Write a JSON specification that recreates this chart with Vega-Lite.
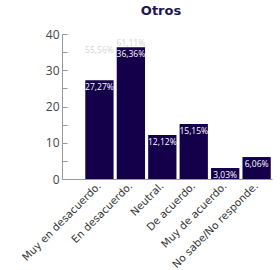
{
  "$schema": "https://vega.github.io/schema/vega-lite/v6.json",
  "width": 210,
  "height": 145,
  "autosize": {"type": "none"},
  "padding": {"left": 62, "top": 34, "right": 8, "bottom": 91},
  "config": {"view": {"stroke": null}, "font": "Open Sans"},
  "title": {"text": "Otros", "fontSize": 13, "fontWeight": "bold", "color": "#1c1650", "offset": 10, "dx": -6, "font": "DejaVu Sans"},
  "data": {"values": [
    {"cat": "Muy en desacuerdo.", "v": 27.27, "label": "27,27%", "ghost": "55,56%", "gy": 35.5},
    {"cat": "En desacuerdo.", "v": 36.36, "label": "36,36%", "ghost": "61,11%", "gy": 37.5},
    {"cat": "Neutral.", "v": 12.12, "label": "12,12%", "ghost": null, "gy": null},
    {"cat": "De acuerdo.", "v": 15.15, "label": "15,15%", "ghost": null, "gy": null},
    {"cat": "Muy de acuerdo.", "v": 3.03, "label": "3,03%", "ghost": null, "gy": null},
    {"cat": "No sabe/No responde.", "v": 6.06, "label": "6,06%", "ghost": null, "gy": null}
  ]},
  "encoding": {
    "x": {
      "field": "cat", "type": "nominal", "sort": null,
      "scale": {"paddingInner": 0.1, "paddingOuter": 0.39, "align": 0.95},
      "axis": {"title": null, "labelAngle": -45, "labelFont": "DejaVu Sans", "labelFontSize": 10.5, "labelColor": "#333333", "ticks": false, "domainColor": "#999999", "labelPadding": 5, "labelAlign": "right", "labelBaseline": "middle"}
    }
  },
  "layer": [
    {
      "mark": {"type": "bar", "color": "#14004a"},
      "encoding": {
        "y": {"field": "v", "type": "quantitative", "scale": {"domain": [0, 40]},
          "axis": {"title": null, "values": [0, 5, 10, 15, 20, 25, 30, 35, 40], "labelExpr": "datum.value % 10 == 0 ? datum.label : ''", "labelOverlap": false, "grid": false, "tickSize": -5, "tickColor": "#999999", "domainColor": "#999999", "labelFontSize": 12, "labelColor": "#444444", "labelPadding": 8}}
      }
    },
    {
      "mark": {"type": "text", "color": "#ffffff", "fontSize": 8.5, "baseline": "middle", "dy": 7},
      "encoding": {"y": {"field": "v", "type": "quantitative", "scale": {"domain": [0, 40]},
          "axis": {"title": null, "values": [0, 5, 10, 15, 20, 25, 30, 35, 40], "labelExpr": "datum.value % 10 == 0 ? datum.label : ''", "labelOverlap": false, "grid": false, "tickSize": -5, "tickColor": "#999999", "domainColor": "#999999", "labelFontSize": 12, "labelColor": "#444444", "labelPadding": 8}}, "text": {"field": "label"}}
    },
    {
      "transform": [{"filter": "datum.ghost != null"}],
      "mark": {"type": "text", "color": "#d4d4d4", "fontSize": 8.5, "baseline": "middle"},
      "encoding": {"y": {"field": "gy", "type": "quantitative", "scale": {"domain": [0, 40]},
          "axis": {"title": null, "values": [0, 5, 10, 15, 20, 25, 30, 35, 40], "labelExpr": "datum.value % 10 == 0 ? datum.label : ''", "labelOverlap": false, "grid": false, "tickSize": -5, "tickColor": "#999999", "domainColor": "#999999", "labelFontSize": 12, "labelColor": "#444444", "labelPadding": 8}}, "text": {"field": "ghost"}}
    }
  ]
}
